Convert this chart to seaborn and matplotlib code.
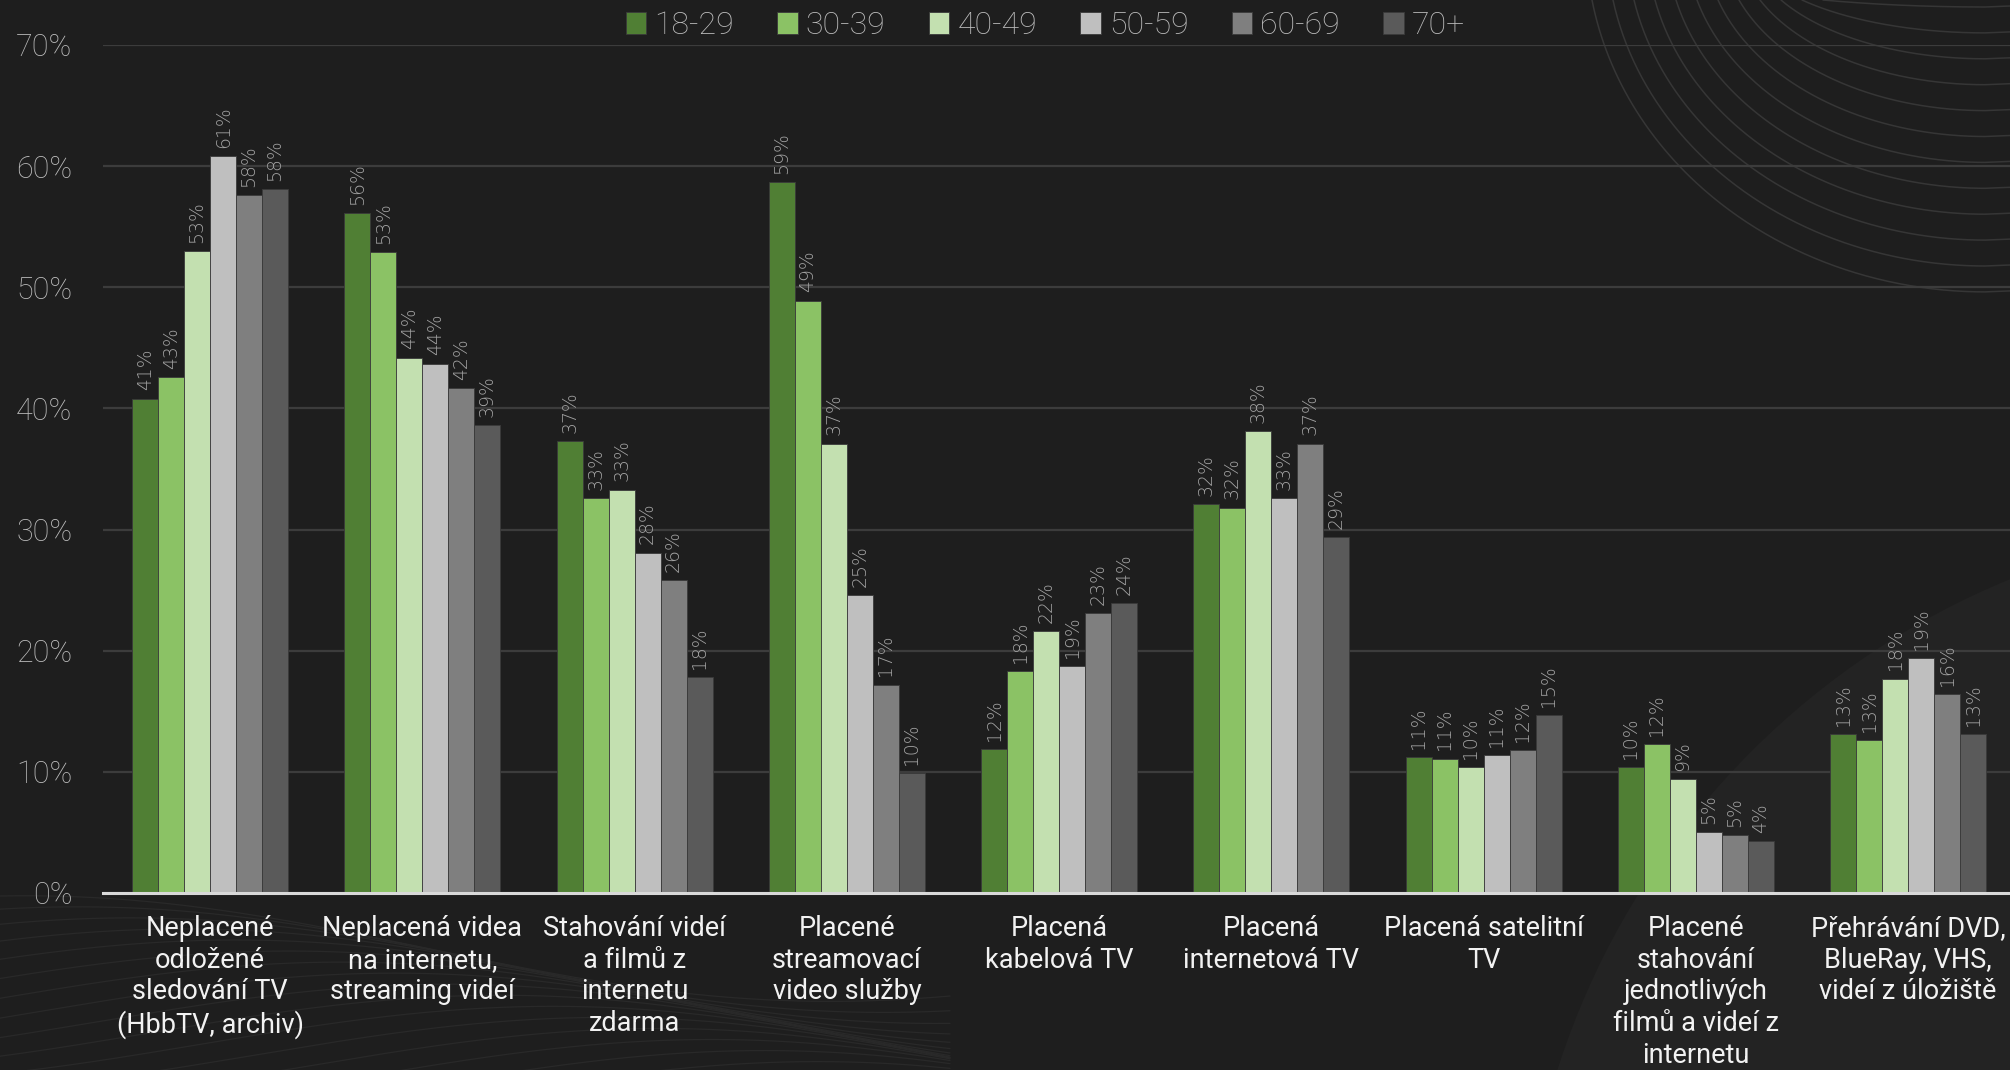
import numpy as np
import pandas as pd
import matplotlib
matplotlib.use("Agg")
import matplotlib.pyplot as plt
from matplotlib.patches import Circle
import seaborn as sns

# categories (x axis) and age groups (hue)
categories = [
    "Neplacené\nodložené\nsledování TV\n(HbbTV, archiv)",
    "Neplacená videa\nna internetu,\nstreaming videí",
    "Stahování videí\na filmů z\ninternetu\nzdarma",
    "Placené\nstreamovací\nvideo služby",
    "Placená\nkabelová TV",
    "Placená\ninternetová TV",
    "Placená satelitní\nTV",
    "Placené\nstahování\njednotlivých\nfilmů a videí z\ninternetu",
    "Přehrávání DVD,\nBlueRay, VHS,\nvideí z úložiště",
]
age_groups = ["18-29", "30-39", "40-49", "50-59", "60-69", "70+"]

# values in %
v_18_29 = [40.8, 56.1, 37.3, 58.7, 11.9, 32.1, 11.2, 10.4, 13.1]
v_30_39 = [42.6, 52.9, 32.6, 48.9, 18.3, 31.8, 11.1, 12.3, 12.6]
v_40_49 = [53.0, 44.2, 33.3, 37.1, 21.6, 38.1, 10.4, 9.4, 17.7]
v_50_59 = [60.8, 43.7, 28.1, 24.6, 18.7, 32.6, 11.4, 5.0, 19.4]
v_60_69 = [57.6, 41.7, 25.8, 17.2, 23.1, 37.1, 11.8, 4.8, 16.4]
v_70 = [58.1, 38.6, 17.8, 9.9, 23.9, 29.4, 14.7, 4.3, 13.1]

colors = ["#507f34", "#8bc265", "#c3e0b0", "#bfbfbf", "#7f7f7f", "#5a5a5a"]

rows = []
for grp, vals in zip(age_groups, [v_18_29, v_30_39, v_40_49, v_50_59, v_60_69, v_70]):
    for cat, v in zip(categories, vals):
        rows.append({"kategorie": cat, "vek": grp, "podil": v})
df = pd.DataFrame(rows)

bg = "#1e1e1e"
sns.set_style("dark")
plt.rcParams["font.family"] = ["Roboto", "DejaVu Sans"]

fig = plt.figure(figsize=(20.1, 10.7), dpi=100, facecolor=bg)

# decorative background
deco = fig.add_axes([0, 0, 1, 1], zorder=0)
deco.set_xlim(0, 2010)
deco.set_ylim(1070, 0)
deco.axis("off")
deco.set_facecolor(bg)
deco.add_patch(Circle((2310, 1310), 790, facecolor="#232323", edgecolor="none"))
cx, cy = 1985, -60
for i in range(12):
    d = 7 + 25.9 * i
    left = 1823 - 21 * i
    b = d - cy
    t0 = np.arcsin(-cy / b)
    a = (cx - left) / np.cos(t0)
    t = np.linspace(t0, np.pi / 2, 200)
    xs = cx - a * np.cos(t)
    ys = cy + b * np.sin(t)
    xs = np.concatenate([xs, [2010]])
    ys = np.concatenate([ys, [ys[-1] - 1]])
    deco.plot(xs, ys, color="#363636", lw=1.1)
for i in range(16):
    xs = np.linspace(0, 950, 300)
    ys = 1090 - 10 * i + 45 * np.sin(xs / 240 + 1.2 + i * 0.22) + xs * 0.02
    deco.plot(xs, ys, color="#292929", lw=0.9)

ax = fig.add_axes([103 / 2010, 1 - 893 / 1070, 1 - 103 / 2010, (893 - 45) / 1070], zorder=1)
ax.set_facecolor("none")

sns.barplot(data=df, x="kategorie", y="podil", hue="vek", hue_order=age_groups,
            palette=colors, width=0.735, gap=0, saturation=1, ax=ax,
            edgecolor="#3a3a3a", linewidth=0.6, legend=True)

for cont in ax.containers:
    ax.bar_label(cont, fmt="{:.0f}%", rotation=90, padding=6, fontsize=13.5,
                 color="#a3a3a3", family="DejaVu Sans", fontweight="light")

ax.set_ylim(0, 70)
ax.set_xlim(-0.505, 8.48)
ax.set_yticks(range(0, 71, 10))
ax.set_yticklabels([f"{t}%" for t in range(0, 71, 10)], fontsize=22,
                   color="#bdbdbd", fontweight="light")
ax.tick_params(axis="y", length=0, pad=22)
ax.tick_params(axis="x", length=0, pad=16, labelsize=19.5, labelcolor="#f2f2f2")
for lab in ax.get_xticklabels():
    lab.set_linespacing(1.22)
ax.set_xlabel("")
ax.set_ylabel("")
ax.grid(axis="y", color="#3c3c3c", linewidth=1.6)
ax.grid(axis="x", visible=False)
ax.set_axisbelow(True)
for s in ["top", "right", "left"]:
    ax.spines[s].set_visible(False)
ax.spines["bottom"].set_color("#d9d9d9")
ax.spines["bottom"].set_linewidth(2.2)

handles, labels = ax.get_legend_handles_labels()
ax.get_legend().remove()
fig.legend(handles, labels, loc="center", bbox_to_anchor=(0.52, 0.976), ncol=6,
           frameon=False, labelcolor="#bdbdbd", handlelength=0.65,
           handleheight=0.7, handletextpad=0.25, columnspacing=1.35,
           prop={"weight": "light", "size": 23})

fig.savefig("out.png", dpi=100, facecolor=bg)
